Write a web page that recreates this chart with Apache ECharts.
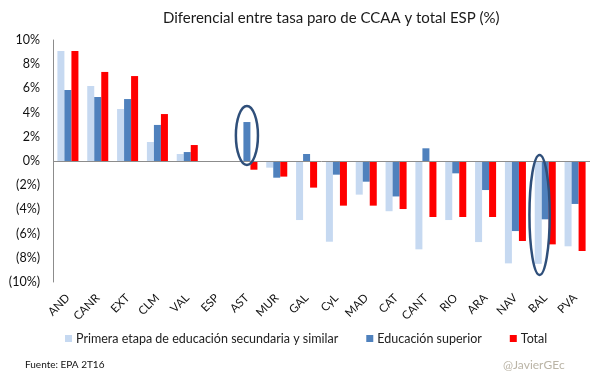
<!DOCTYPE html>
<html><head><meta charset="utf-8">
<script src="https://cdn.jsdelivr.net/npm/echarts@6/dist/echarts.min.js"></script>
<style>html,body{margin:0;padding:0;background:#fff}#c{width:605px;height:378px}</style>
</head><body><div id="c"></div>
<script>
const categories = ['AND','CANR','EXT','CLM','VAL','ESP','AST','MUR','GAL','CyL','MAD','CAT','CANT','RIO','ARA','NAV','BAL','PVA'];
const primera = [9.09,6.2,4.3,1.57,0.58,0,0,-0.55,-4.88,-6.67,-2.78,-4.15,-7.3,-4.88,-6.7,-8.46,-8.5,-7.05];
const superior = [5.87,5.29,5.12,2.98,0.74,0,3.22,-1.38,0.58,-1.13,-1.71,-2.93,1.05,-1.02,-2.4,-5.79,-4.82,-3.55];
const total = [9.09,7.36,7.02,3.88,1.32,0,-0.72,-1.29,-2.2,-3.69,-3.69,-3.97,-4.63,-4.63,-4.63,-6.61,-6.89,-7.44];
const seriesNames = ['Primera etapa de educación secundaria y similar','Educación superior','Total'];
const highlights = [{cat:'AST', lo:-0.33, hi:4.55, half:0.37, shift:0}, {cat:'BAL', lo:-9.42, hi:0.5, half:0.34, shift:-0.19}];

const FONT = 'Lato';
const chart = echarts.init(document.getElementById('c'), null, {renderer:'canvas'});
const mk = (name, data, color) => ({
  name, type:'bar', data, barGap:'0%', barCategoryGap:'29.5%',
  itemStyle:{color}, emphasis:{disabled:true}
});
const s0 = mk(seriesNames[0], primera, '#c6d9f1');
const s1 = mk(seriesNames[1], superior, '#4f81bd');
const s2 = mk(seriesNames[2], total, '#ff0000');
s0.markLine = {silent:true, symbol:'none', label:{show:false}, lineStyle:{color:'#8c8c8c', type:'solid', width:1}, data:[{yAxis:0}], animation:false};
chart.setOption({
  animation:false,
  textStyle:{fontFamily:FONT},
  title:{text:'Diferencial entre tasa paro de CCAA y total ESP (%)', left:158, top:6,
    textStyle:{fontFamily:FONT, fontSize:15, fontWeight:'normal', color:'#1a1a1a'}},
  grid:{left:53, right:15, top:40, bottom:96},
  legend:{left:60, top:327, itemWidth:7, itemHeight:7, itemGap:28, icon:'rect',
    textStyle:{fontFamily:FONT, fontSize:12.5, color:'#222', padding:[0,0,0,-1]}},
  xAxis:{type:'category', data:categories, axisLine:{show:false, onZero:false}, axisTick:{show:false},
    axisLabel:{rotate:45, fontSize:11.5, color:'#111', margin:14, fontFamily:FONT, interval:0}},
  yAxis:{type:'value', min:-10, max:10, interval:2,
    axisLine:{show:true, lineStyle:{color:'#8c8c8c'}}, axisTick:{show:false}, splitLine:{show:false},
    axisLabel:{fontSize:12.5, color:'#111', margin:13, fontFamily:FONT,
      formatter:v => v < 0 ? '(' + (-v) + '%)' : v + '%'}},
  series:[s0, s1, s2]
});
// annotation ellipses anchored via axis conversion
const band = chart.convertToPixel({xAxisIndex:0}, categories[1]) - chart.convertToPixel({xAxisIndex:0}, categories[0]);
const els = highlights.map(h => {
  const cxBase = chart.convertToPixel({xAxisIndex:0}, h.cat);
  const yTop = chart.convertToPixel({yAxisIndex:0}, h.hi);
  const yBot = chart.convertToPixel({yAxisIndex:0}, h.lo);
  const cx = cxBase + h.shift * band, cy = (yTop + yBot) / 2;
  const rx = h.half * band, ry = Math.abs(yBot - yTop) / 2;
  return {type:'ellipse', shape:{cx, cy, rx, ry}, style:{fill:'none', stroke:'#2f4f7a', lineWidth:2.5}, z:100, silent:true};
});
els.push({type:'text', left:25, top:360, style:{text:'Fuente: EPA 2T16', fontFamily:FONT, fontSize:10, fill:'#111'}});
els.push({type:'text', left:503, top:359, style:{text:'@JavierGEc', fontFamily:FONT, fontSize:12, fill:'#bab4a6'}});
chart.setOption({graphic:els});
</script></body></html>
